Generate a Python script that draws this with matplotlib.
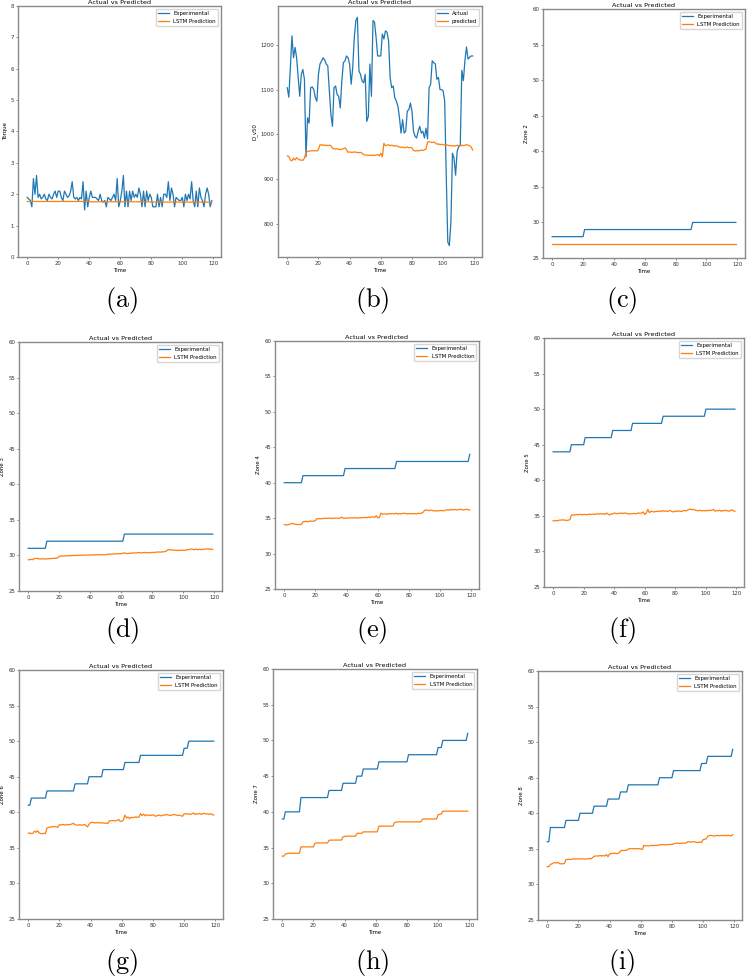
import numpy as np
import matplotlib
matplotlib.use("Agg")
import matplotlib.pyplot as plt

plt.rcParams['mathtext.fontset'] = 'cm'

# ---- data (t = 0..119) ----
torque_exp = [1.9, 1.85, 1.8, 1.6, 2.5, 2.0, 2.6, 1.9, 2.0, 1.85,
              1.9, 2.0, 1.85, 1.8, 2.0, 1.9, 1.85, 2.0, 2.1, 1.9,
              2.1, 2.1, 1.9, 1.8, 2.1, 2.0, 1.9, 1.95, 2.1, 2.4,
              1.9, 1.85, 1.9, 1.8, 1.9, 1.85, 2.4, 1.5, 2.1, 1.6,
              1.9, 2.1, 1.9, 1.9, 1.9, 1.85, 1.8, 2.0, 1.8, 1.75,
              1.8, 1.6, 1.9, 1.85, 1.8, 1.9, 2.0, 1.8, 2.5, 1.6,
              1.8, 2.1, 2.6, 1.6, 2.1, 1.6, 2.1, 1.8, 2.1, 1.9,
              2.0, 1.9, 2.2, 2.0, 1.6, 2.1, 1.6, 2.1, 1.8, 2.0,
              1.9, 1.6, 1.6, 1.6, 2.0, 1.6, 1.9, 1.6, 2.0, 2.0,
              1.9, 2.4, 1.8, 2.2, 2.0, 1.6, 1.9, 1.85, 1.8, 1.8,
              1.9, 1.6, 2.0, 1.8, 2.0, 1.85, 2.4, 1.8, 1.6, 2.1,
              1.6, 2.2, 1.9, 1.8, 1.6, 2.0, 2.2, 2.0, 1.6, 1.8]
torque_pred = [1.77] * 40 + [1.76] * 40 + [1.75] * 40

dv50_act = [1104, 1083, 1150, 1220, 1171, 1194, 1171, 1127, 1085, 1134,
            1145, 1123, 950, 1037, 1025, 1104, 1106, 1100, 1082, 1074,
            1134, 1157, 1164, 1171, 1166, 1157, 1153, 1097, 1044, 1018,
            1104, 1108, 1089, 1085, 1059, 1119, 1160, 1164, 1175, 1171,
            1157, 1112, 1149, 1216, 1254, 1261, 1141, 1134, 1119, 1115,
            1134, 1029, 1040, 1157, 1085, 1254, 1250, 1216, 1175, 1175,
            1175, 1224, 1213, 1231, 1228, 1209, 1127, 1104, 1108, 1082,
            1074, 1063, 1037, 1003, 1033, 1003, 1007, 1052, 1055, 1070,
            1052, 1007, 996, 992, 1007, 1018, 1003, 1007, 992, 1014,
            990, 1104, 1112, 1164, 1160, 1157, 1123, 1127, 1100, 1100,
            1097, 1074, 909, 760, 752, 805, 958, 947, 909, 962,
            973, 977, 1143, 1120, 1165, 1195, 1168, 1172, 1175, 1175]
dv50_pred = [952, 951, 943, 941, 947, 943, 948, 945, 943, 943, 942, 947,
             960, 962, 963, 963, 964, 963, 964, 963, 966,
             977, 976, 977, 975, 976, 975, 976, 975, 969,
             968, 967, 968, 967, 966, 967, 968, 970, 966,
             960, 961, 960, 960, 961, 960, 960, 959, 960, 958,
             955, 954, 954, 953, 954, 953, 954, 953, 954, 955, 952, 958, 950,
             980, 975, 976, 977, 975, 976, 975, 974, 975,
             973, 972, 971, 972, 970, 971, 972, 970, 971, 970,
             964, 963, 964, 963, 964, 965, 964, 966, 967,
             983, 984, 983, 982, 983, 981,
             978, 979, 977, 978, 977, 976, 977, 976, 975, 975,
             974, 975, 974, 976, 975, 974, 976, 975, 976, 977, 976, 975, 972, 965]

# step series: levels and how many samples stay on each level
zone2_levels, zone2_runs = [28, 29, 30], [21, 70, 29]
zone3_levels, zone3_runs = [31, 32, 33], [12, 50, 58]
zone4_levels, zone4_runs = [40, 41, 42, 43, 44], [12, 27, 33, 47, 1]
zone5_levels, zone5_runs = [44, 45, 46, 47, 48, 49, 50], [12, 9, 18, 13, 20, 28, 20]
zone6_levels, zone6_runs = [41, 42, 43, 44, 45, 46, 47, 48, 49, 50], [2, 10, 18, 9, 9, 14, 10, 28, 3, 17]
zone7_levels, zone7_runs = [39, 40, 42, 43, 44, 45, 46, 47, 48, 49, 50, 51], [2, 10, 18, 9, 9, 4, 10, 19, 19, 3, 16, 1]
zone8_levels, zone8_runs = [36, 38, 39, 40, 41, 42, 43, 44, 45, 46, 47, 48, 49], [2, 10, 9, 9, 9, 8, 5, 20, 9, 18, 4, 16, 1]

zone2_pred = [26.9] * 120
zone3_pred = [29.4, 29.4, 29.45, 29.4, 29.6, 29.55, 29.6,
              29.5, 29.5, 29.55, 29.5, 29.5, 29.5, 29.55, 29.55, 29.55, 29.6, 29.6, 29.6, 29.65,
              29.9, 29.9, 29.95, 29.9, 29.95, 29.95, 29.95, 30.0, 29.95, 30.0,
              30.0, 30.0, 30.0, 30.05, 30.0, 30.05, 30.05, 30.05, 30.05, 30.05,
              30.05, 30.1, 30.05, 30.1, 30.1, 30.1, 30.1, 30.1, 30.1, 30.1,
              30.1, 30.15, 30.2, 30.15, 30.2, 30.2, 30.25, 30.2, 30.25, 30.25,
              30.25, 30.3, 30.35, 30.3, 30.25, 30.3, 30.3, 30.35, 30.35, 30.35,
              30.35, 30.4, 30.4, 30.35, 30.4, 30.4, 30.4, 30.4, 30.35, 30.4,
              30.45, 30.4, 30.45, 30.45, 30.5, 30.45, 30.5, 30.5, 30.55, 30.6,
              30.8, 30.8, 30.75, 30.8, 30.7, 30.75, 30.7, 30.7, 30.75, 30.7,
              30.75, 30.7, 30.8, 30.8, 30.85, 30.9, 30.85, 30.8, 30.9, 30.8,
              30.85, 30.85, 30.8, 30.9, 30.85, 30.9, 30.95, 30.85, 30.9, 30.85]
zone4_pred = [34.1, 34.05, 34.05, 34.1, 34.2, 34.25, 34.2, 34.15, 34.1, 34.1, 34.1, 34.1,
              34.5, 34.5, 34.55, 34.5, 34.55, 34.6, 34.55, 34.6, 34.65,
              34.95, 34.9, 34.95, 34.9, 34.95, 35.0, 34.95, 35.0, 35.0,
              35.0, 34.95, 35.0, 35.0, 35.0, 34.95, 35.05, 35.15, 34.95, 35.0,
              35.0, 35.05, 35.0, 35.05, 35.0, 35.05, 35.05, 35.0, 35.05, 35.05,
              35.05, 35.1, 35.1, 35.05, 35.15, 35.1, 35.15, 35.2, 35.1, 35.35, 35.05, 35.1,
              35.7, 35.55, 35.6, 35.6, 35.55, 35.6, 35.65, 35.6,
              35.65, 35.6, 35.7, 35.55, 35.65, 35.6, 35.65, 35.7, 35.65, 35.6,
              35.65, 35.6, 35.65, 35.6, 35.65, 35.6, 35.7, 35.65, 35.7, 35.8,
              36.1, 36.15, 36.1, 36.05, 36.15, 36.1, 36.0, 36.05, 36.0, 36.05,
              36.05, 36.1, 36.0, 36.1, 36.15, 36.2, 36.1, 36.25, 36.15, 36.2,
              36.2, 36.15, 36.2, 36.25, 36.2, 36.15, 36.2, 36.25, 36.2, 36.15]
zone5_pred = [34.3, 34.3, 34.35, 34.3, 34.4, 34.4, 34.45, 34.4, 34.4, 34.35, 34.4, 34.45,
              35.1, 35.15, 35.1, 35.2, 35.15, 35.2, 35.2, 35.15, 35.2,
              35.2, 35.15, 35.2, 35.25, 35.2, 35.25, 35.2, 35.25, 35.3,
              35.25, 35.3, 35.25, 35.3, 35.2, 35.4, 35.25, 35.1, 35.3, 35.25,
              35.4, 35.35, 35.3, 35.35, 35.4, 35.35, 35.35, 35.4, 35.35, 35.3,
              35.25, 35.3, 35.3, 35.35, 35.3, 35.35, 35.4, 35.35, 35.4, 35.55,
              35.2, 35.4, 35.9, 35.45, 35.65, 35.6, 35.55, 35.6, 35.65, 35.6,
              35.7, 35.6, 35.75, 35.65, 35.7, 35.6, 35.75, 35.7, 35.6, 35.55,
              35.7, 35.6, 35.7, 35.65, 35.6, 35.7, 35.75, 35.7, 35.8, 35.9,
              35.95, 35.85, 35.9, 35.8, 35.75, 35.7, 35.8, 35.7, 35.75, 35.7,
              35.75, 35.7, 35.8, 35.75, 35.8, 35.9, 35.65, 35.75, 35.7, 35.8,
              35.65, 35.75, 35.7, 35.8, 35.7, 35.65, 35.75, 35.85, 35.7, 35.65]
zone6_pred = [37.05, 37.1, 37.0, 37.05, 37.35, 37.2, 37.4, 37.1, 37.0, 37.0, 37.05, 37.0,
              37.8, 37.9, 37.9, 38.0, 37.95, 38.0, 37.95, 37.9,
              38.25, 38.2, 38.3, 38.25, 38.2, 38.3, 38.25, 38.3, 38.35, 38.45,
              38.25, 38.2, 38.2, 38.25, 38.2, 38.2, 38.3, 38.15, 37.95, 38.3,
              38.55, 38.6, 38.55, 38.5, 38.55, 38.5, 38.55, 38.5, 38.5, 38.45, 38.5, 38.4,
              38.8, 38.8, 38.85, 38.8, 38.8, 38.85, 39.0, 38.7, 38.75, 38.9,
              39.6, 39.2, 39.35, 39.1, 39.3, 39.25, 39.3, 39.35, 39.3, 39.3,
              39.8, 39.55, 39.75, 39.5, 39.65, 39.6, 39.55, 39.6, 39.65, 39.5,
              39.45, 39.55, 39.6, 39.5, 39.55, 39.65, 39.6, 39.7, 39.6, 39.55,
              39.6, 39.65, 39.7, 39.6, 39.55, 39.6, 39.5, 39.45, 39.8, 39.75,
              39.8, 39.75, 39.7, 39.8, 39.9, 39.7, 39.8, 39.75, 39.85, 39.7,
              39.8, 39.85, 39.75, 39.8, 39.7, 39.8, 39.7, 39.6]
zone7_pred = ([33.8, 33.8, 34.1, 34.15] + [34.2] * 8 + [35.1] * 9 +
              [35.6] + [35.65] * 8 + [36.0] + [36.05] * 8 +
              [36.5, 36.55] + [36.6] * 7 + [37.0] * 4 + [37.2] * 10 + [38.0] * 10 +
              [38.5, 38.55] + [38.6] * 16 + [39.0] * 10 + [39.6, 39.65, 39.7] + [40.1] * 17)
zone8_pred = [32.5, 32.5, 32.8, 32.9, 33.0, 33.1, 33.0, 33.1, 32.9, 32.9, 32.9, 32.95,
              33.5, 33.5, 33.55, 33.5, 33.55, 33.6, 33.55, 33.6, 33.6, 33.55,
              33.6, 33.6, 33.55, 33.6, 33.6, 33.65, 33.6, 33.75,
              33.95, 34.0, 34.0, 34.0, 34.05, 34.0, 34.05, 34.0, 34.2, 33.9,
              34.3, 34.35, 34.35, 34.4, 34.35, 34.35, 34.4,
              34.7, 34.8, 34.75, 34.8, 34.8,
              35.0, 35.0, 35.05, 35.0, 35.05, 35.0, 35.05, 35.0, 35.0, 34.9,
              35.5, 35.4, 35.45, 35.4, 35.45, 35.5, 35.45, 35.5, 35.5, 35.45,
              35.6, 35.55, 35.6, 35.6, 35.55, 35.6, 35.6, 35.65, 35.6,
              35.7, 35.75, 35.8, 35.8, 35.75, 35.8, 35.8, 35.85, 35.8,
              36.0, 36.0, 35.95, 36.0, 36.0, 35.95, 35.9, 35.9, 35.95, 35.9,
              36.3, 36.35, 36.4,
              36.8, 36.85, 36.9, 36.85, 36.8, 36.85, 36.9, 36.85, 36.85, 36.9,
              36.85, 36.9, 36.85, 36.9, 36.85, 36.8, 37.0]

W, H = 747, 980
fig = plt.figure(figsize=(W / 100, H / 100), dpi=100)

FS = 3.9
BLUE, ORANGE = '#1f77b4', '#ff7f0e'


def panel(box, y1, y2, ylabel, names, caption, cap_xy, ylim=None):
    l, r, t, b = box
    ax = fig.add_axes([l / W, 1 - b / H, (r - l) / W, (b - t) / H])
    ax.plot(range(len(y1)), y1, color=BLUE, lw=0.9, label=names[0])
    ax.plot(range(len(y2)), y2, color=ORANGE, lw=0.9, label=names[1])
    if ylim:
        ax.set_ylim(*ylim)
    ax.set_xticks([0, 20, 40, 60, 80, 100, 120])
    ax.set_title('Actual vs Predicted', fontsize=FS * 1.2, pad=1.5)
    ax.set_xlabel('Time', fontsize=FS, labelpad=1.5)
    ax.set_ylabel(ylabel, fontsize=FS, labelpad=2)
    ax.tick_params(labelsize=FS, length=1.4, width=0.4, pad=1.3, colors='#333333')
    for s in ax.spines.values():
        s.set_color('#8a8a8a')
        s.set_linewidth(1.0)
    ax.legend(loc='upper right', fontsize=FS, framealpha=0.8,
              edgecolor='0.8', fancybox=True)
    fig.text(cap_xy[0] / W, 1 - cap_xy[1] / H, r'$\mathrm{' + caption + '}$',
             fontsize=19, ha='center', va='center')
    return ax


names = ['Experimental', 'LSTM Prediction']
zl = (25, 60)
panel((18, 221, 6, 257), torque_exp, torque_pred, 'Torque', names, '(a)', (122, 300), (0, 8))
panel((278, 482, 6, 257), dv50_act, dv50_pred, 'D_v50', ['Actual', 'predicted'], '(b)', (372, 300))
panel((543, 745, 9, 258), np.repeat(zone2_levels, zone2_runs), zone2_pred, 'Zone 2', names, '(c)', (622, 300), zl)
panel((19, 222, 342, 591), np.repeat(zone3_levels, zone3_runs), zone3_pred, 'Zone 3', names, '(d)', (122, 630), zl)
panel((275, 479, 341, 589), np.repeat(zone4_levels, zone4_runs), zone4_pred, 'Zone 4', names, '(e)', (372, 630), zl)
panel((544, 744, 338, 587), np.repeat(zone5_levels, zone5_runs), zone5_pred, 'Zone 5', names, '(f)', (622, 630), zl)
panel((19, 223, 670, 919), np.repeat(zone6_levels, zone6_runs), zone6_pred, 'Zone 6', names, '(g)', (122, 962), zl)
panel((273, 477, 669, 919), np.repeat(zone7_levels, zone7_runs), zone7_pred, 'Zone 7', names, '(h)', (372, 962), zl)
panel((538, 742, 671, 920), np.repeat(zone8_levels, zone8_runs), zone8_pred, 'Zone 8', names, '(i)', (622, 962), zl)

fig.savefig('out.png', dpi=100)
